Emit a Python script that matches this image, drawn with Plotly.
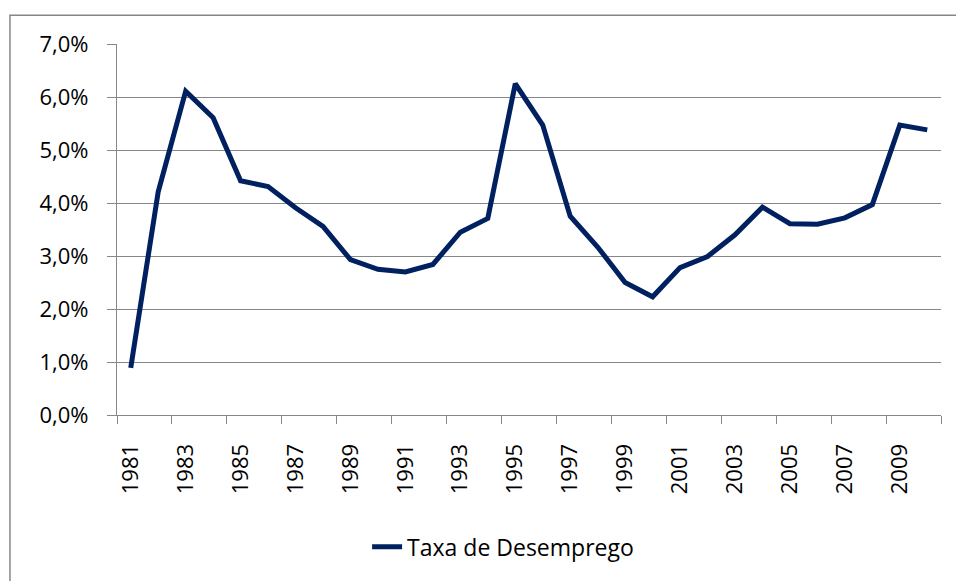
import plotly.graph_objects as go

years = list(range(1981, 2011))
taxa_desemprego = [0.89, 4.21, 6.11, 5.61, 4.42, 4.31, 3.91, 3.56, 2.93, 2.75,
                   2.70, 2.84, 3.45, 3.71, 6.25, 5.47, 3.75, 3.17, 2.50, 2.23,
                   2.78, 2.99, 3.40, 3.92, 3.61, 3.60, 3.72, 3.97, 5.47, 5.38]
year_labels = [str(y) for y in range(1981, 2011, 2)]
y_ticks = [0, 1, 2, 3, 4, 5, 6, 7]
y_tick_labels = ["0,0%", "1,0%", "2,0%", "3,0%", "4,0%", "5,0%", "6,0%", "7,0%"]

W, H = 956, 581
L, R, T, B = 117, 15.3, 44, 163.7
pw, ph = W - L - R, H - T - B

grid = "#878787"
font_family = "Open Sans"

fig = go.Figure()
fig.add_trace(go.Scatter(
    x=years, y=taxa_desemprego, mode="lines", name="Taxa de Desemprego",
    line=dict(color="#002060", width=5),
))

fig.update_layout(
    width=W, height=H,
    margin=dict(l=L, r=R, t=T, b=B, pad=0),
    paper_bgcolor="white", plot_bgcolor="white",
    font=dict(family=font_family, size=22, color="#000000"),
    showlegend=True,
    legend=dict(orientation="h", x=(367 - L) / pw, xanchor="left",
                y=(H - 550 - B) / ph, yanchor="middle",
                font=dict(size=23), bgcolor="rgba(0,0,0,0)"),
    xaxis=dict(
        range=[1980.5, 2010.5],
        tickmode="array", tickvals=[int(v) for v in year_labels], ticktext=year_labels,
        tickangle=-90, ticks="", ticklen=0,
        ticklabelstandoff=19,
        showgrid=False, zeroline=False,
        showline=True, linecolor=grid, linewidth=1.3,
        minor=dict(tick0=1980.5, dtick=2, ticks="outside", ticklen=8,
                   tickcolor=grid, tickwidth=1.3, showgrid=False),
        tickfont=dict(size=22),
    ),
    yaxis=dict(
        range=[0, 7], tickmode="array", tickvals=y_ticks, ticktext=y_tick_labels,
        ticks="outside", ticklen=9, tickcolor=grid, tickwidth=1.3,
        ticklabelstandoff=14,
        showgrid=True, gridcolor=grid, gridwidth=1.3,
        zeroline=False, showline=True, linecolor=grid, linewidth=1.3,
        tickfont=dict(size=22),
    ),
    shapes=[dict(type="rect", xref="paper", yref="paper",
                 x0=(10 - L) / pw, x1=1.2, y0=-0.6, y1=(H - B - 15) / ph,
                 line=dict(color=grid, width=1.5), fillcolor="rgba(0,0,0,0)",
                 layer="below")],
)

fig.write_html("out.html", config={"displayModeBar": False},
               post_script="document.body.style.margin='0';")
